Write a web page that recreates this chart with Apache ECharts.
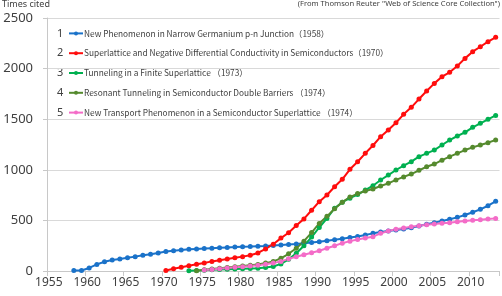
<!DOCTYPE html>
<html>
<head>
<meta charset="utf-8">
<script src="https://cdn.jsdelivr.net/npm/echarts@6/dist/echarts.min.js"></script>
<style>
html,body{margin:0;padding:0;background:#fff;}
#chart{width:502px;height:296px;}
</style>
</head>
<body>
<div id="chart"></div>
<script>
var years = [1955,1956,1957,1958,1959,1960,1961,1962,1963,1964,1965,1966,1967,1968,1969,1970,1971,1972,1973,1974,1975,1976,1977,1978,1979,1980,1981,1982,1983,1984,1985,1986,1987,1988,1989,1990,1991,1992,1993,1994,1995,1996,1997,1998,1999,2000,2001,2002,2003,2004,2005,2006,2007,2008,2009,2010,2011,2012,2013];
var xTickLabels = [1955,1960,1965,1970,1975,1980,1985,1990,1995,2000,2005,2010];
var yTickLabels = [0,500,1000,1500,2000,2500];

var seriesNames = [
  "New Phenomenon in Narrow Germanium p-n Junction（1958）",
  "Superlattice and Negative Differential Conductivity in Semiconductors（1970）",
  "Tunneling in a Finite Superlattice （1973）",
  "Resonant Tunneling in Semiconductor Double Barriers （1974）",
  "New Transport Phenomenon in a Semiconductor Superlattice （1974）"
];
var seriesNumbers = ["1","2","3","4","5"];
var seriesStart = [1958, 1970, 1973, 1974, 1975];

var s1 = [5,5,30,65,92,108,118,130,142,155,165,178,192,200,208,214,218,222,226,230,233,236,240,242,245,248,252,256,262,268,275,282,290,298,308,318,330,342,355,372,385,395,405,415,428,445,461,478,494,511,530,553,580,609,645,688];
var s2 = [5,22,37,52,66,80,95,106,118,130,142,155,178,218,265,325,378,450,515,600,685,751,833,906,1005,1080,1163,1240,1327,1393,1465,1548,1617,1699,1778,1854,1920,1963,2025,2101,2167,2216,2266,2309];
var s3 = [2,5,8,12,15,18,20,22,25,28,35,45,70,115,175,250,335,430,520,620,680,720,755,800,843,899,948,998,1041,1080,1130,1163,1195,1245,1294,1334,1370,1420,1459,1499,1537];
var s4 = [3,12,20,28,35,42,50,57,65,78,95,125,170,225,295,380,470,540,615,680,730,765,790,810,840,866,900,930,958,995,1030,1057,1095,1130,1163,1195,1222,1245,1268,1294];
var s5 = [10,16,23,30,36,43,49,56,66,80,95,120,140,160,180,200,225,250,275,295,312,326,339,372,395,412,425,438,448,458,464,471,477,487,494,501,507,514,520];
var seriesValues = [s1, s2, s3, s4, s5];
var seriesColors = ['#1a72c9', '#ff0d0d', '#00b050', '#558a2e', '#f46cc8'];

function pad(start, vals) {
  return years.map(function (y) {
    var i = y - start;
    return (i >= 0 && i < vals.length) ? vals[i] : null;
  });
}

var chart = echarts.init(document.getElementById('chart'), null, {renderer: 'canvas'});

var series = seriesNames.map(function (name, k) {
  return {
    name: name,
    type: 'line',
    data: pad(seriesStart[k], seriesValues[k]),
    symbol: 'circle',
    symbolSize: 5,
    showSymbol: true,
    connectNulls: false,
    lineStyle: {width: 2, color: seriesColors[k]},
    itemStyle: {color: seriesColors[k]},
    emphasis: {disabled: true},
    animation: false
  };
});

var rowTop = 23.5, rowH = 19.8;
var graphics = [
  {type: 'text', left: 2, top: 0, style: {text: 'Times cited', fontSize: 9, fontFamily: 'Noto Sans', fill: '#404040'}},
  {type: 'text', right: 2, top: 0, style: {text: '(From Thomson Reuter "Web of Science Core Collection")', fontSize: 7.6, fontFamily: 'Noto Sans', fill: '#404040'}}
];
seriesNumbers.forEach(function (n, k) {
  graphics.push({type: 'text', x: 57, y: rowTop + 10 + k * rowH, style: {text: n, fontSize: 11, fontFamily: 'Noto Sans', fill: '#404040', verticalAlign: 'middle', align: 'left'}});
});

chart.setOption({
  animation: false,
  backgroundColor: '#fff',
  grid: {left: 47, right: 2.5, top: 18, bottom: 25, containLabel: false},
  legend: {
    show: true,
    orient: 'vertical',
    left: 68,
    top: rowTop,
    padding: 0,
    itemWidth: 14,
    itemHeight: 5,
    itemGap: 0,
    selectedMode: false,
    data: seriesNames,
    textStyle: {fontSize: 8.3, fontFamily: 'Noto Sans CJK JP', color: '#404040', lineHeight: rowH, padding: [0, 0, 0, -4]}
  },
  xAxis: {
    type: 'category',
    data: years.map(String),
    boundaryGap: true,
    axisLine: {show: true, lineStyle: {color: '#c8c8c8', width: 1}},
    axisTick: {show: true, length: 5, interval: 4, lineStyle: {color: '#c8c8c8'}},
    axisLabel: {
      show: true,
      interval: function (idx, val) { return xTickLabels.indexOf(+val) >= 0; },
      fontSize: 12, fontFamily: 'Noto Sans', color: '#404040', margin: 6, padding: [0, 4, 0, 0]
    },
    splitLine: {show: false}
  },
  yAxis: {
    type: 'value',
    min: 0, max: 2500, interval: 500,
    axisLine: {show: true, lineStyle: {color: '#c8c8c8', width: 1}},
    axisTick: {show: true, length: 4, lineStyle: {color: '#c8c8c8'}},
    axisLabel: {fontSize: 13, fontFamily: 'Noto Sans', color: '#404040', margin: 14,
      formatter: function (v) { return yTickLabels.indexOf(v) >= 0 ? String(v) : ''; }},
    splitLine: {show: true, lineStyle: {color: '#d9d9d9', width: 1}}
  },
  graphic: graphics,
  series: series
});
</script>
</body>
</html>
